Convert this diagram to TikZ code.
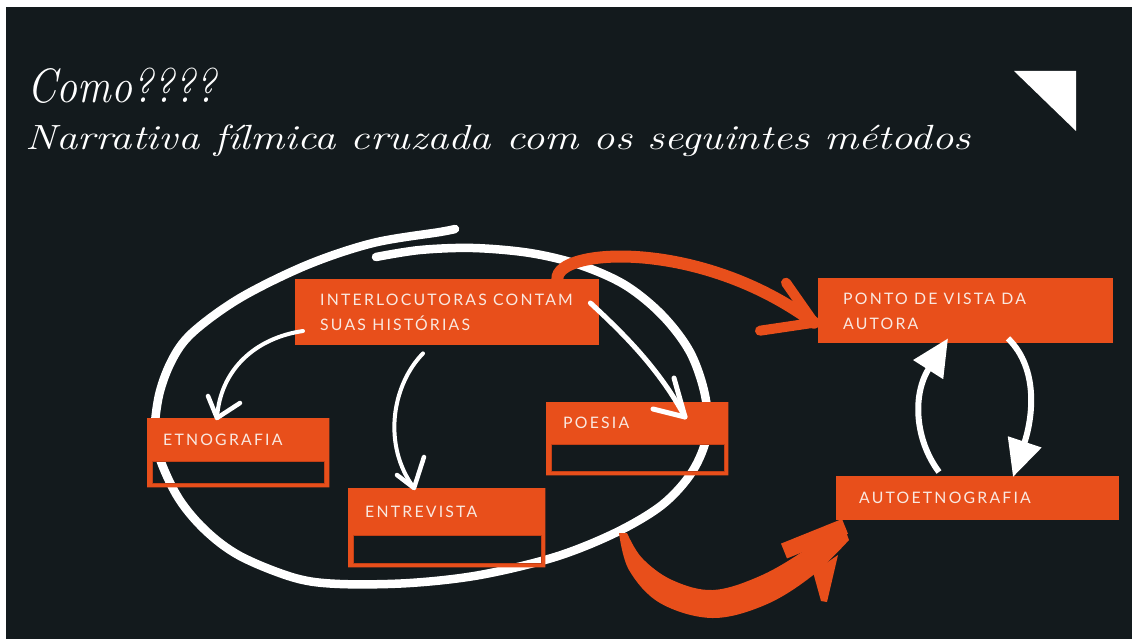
\documentclass[tikz,border=0pt]{standalone}
\usepackage{fontspec}
\usetikzlibrary{arrows.meta,calc}
\definecolor{bgdark}{RGB}{19,26,29}
\definecolor{orng}{RGB}{232,79,27}
\definecolor{orngdk}{RGB}{196,64,22}
\definecolor{boxtxt}{RGB}{250,232,224}
\newfontfamily\boxfont[LetterSpace=14]{Lato}
\tikzset{
  obox/.style={fill=orng, draw=none, anchor=north west, inner sep=0pt},
  framebox/.style={draw=none, fill=none, anchor=north west, inner sep=0pt},
  btext/.style={anchor=base west, inner sep=0pt, text=boxtxt, font=\boxfont\fontsize{15.8}{25}\selectfont},
  holeline/.style={draw=orngdk, line width=0.8pt},
  warrow/.style={draw=white, line width=4pt, line cap=round, line join=round},
  barb/.style={draw=white, line width=4.5pt, line cap=round, line join=round},
  bigw/.style={draw=white, line width=6pt, -{Triangle[width=34pt,length=37pt]}},
  oshaft/.style={draw=orng, line width=12pt, line cap=round},
  obarb/.style={draw=orng, line width=10pt, line cap=round, line join=round},
  loop/.style={draw=white, line width=8.5pt, line cap=round, line join=round},
  ttl/.style={anchor=base west, inner sep=0pt, text=white},
}
\begin{document}
\begin{tikzpicture}[x=1pt,y=-1pt]
\useasboundingbox (0,0) rectangle (1132,639);
\fill[white] (0,0) rectangle (1132,639);
\fill[bgdark] (6,7) rectangle (1132,639);

% title
\node[ttl, font=\fontsize{42}{48}\selectfont\itshape] (t1) at (27,103) {\scalebox{1.0}[1.15]{Como????}};
\node[ttl, font=\fontsize{35}{40}\selectfont\itshape] (t2) at (25,150) {\scalebox{1.22}[1]{Narrativa fílmica cruzada com os seguintes métodos}};
\fill[white] (1014,71) -- (1076,71) -- (1076,131) -- cycle;

% hand-drawn loop
\draw[loop] plot[smooth, tension=0.55] coordinates {
(376,257) (420,250) (473,248) (530,253) (580,265) (625,285) (662,315) (690,352) (705,395) (707,435) (692,472) (662,505) (615,533) (555,557) (480,575) (410,583) (340,584) (295,578) (240,556) (204,529) (176,494) (156,445) (158,400) (171,362) (192,333) (240,298) (307,265) (373,243) (440,232) (455,229)};

% boxes
\node[obox, minimum width=304pt, minimum height=66pt] (inter) at (295,279) {};
\node[obox, minimum width=295pt, minimum height=65pt] (ponto) at (818,278) {};
\node[obox, minimum width=283pt, minimum height=44pt] (auto) at (836,476) {};
\node[framebox, minimum width=182pt, minimum height=69pt] (etno) at (147,418) {};
\node[framebox, minimum width=197pt, minimum height=79pt] (entre) at (348,488) {};
\node[framebox, minimum width=182pt, minimum height=73pt] (poesia) at (546,402) {};

\fill[orng, even odd rule] (etno.north west) rectangle (etno.south east)
  ($(etno.north west)+(5,43)$) rectangle ($(etno.north west)+(177,65)$);
\draw[holeline] ($(etno.north west)+(5,43)$) rectangle ($(etno.north west)+(177,65)$);
\fill[orng, even odd rule] (entre.north west) rectangle (entre.south east)
  ($(entre.north west)+(5,47)$) rectangle ($(entre.north west)+(193,75)$);
\draw[holeline] ($(entre.north west)+(5,47)$) rectangle ($(entre.north west)+(193,75)$);
\fill[orng, even odd rule] (poesia.north west) rectangle (poesia.south east)
  ($(poesia.north west)+(5,42)$) rectangle ($(poesia.north west)+(178,69)$);
\draw[holeline] ($(poesia.north west)+(5,42)$) rectangle ($(poesia.north west)+(178,69)$);

% box texts
\node[btext] (intertxt) at ($(inter.north west)+(25,26)$) {\vtop{\hbox{INTERLOCUTORAS CONTAM}\hbox{SUAS HISTÓRIAS}}};
\node[btext] (pontotxt) at ($(ponto.north west)+(25,26)$) {\vtop{\hbox{PONTO DE VISTA DA}\hbox{AUTORA}}};
\node[btext] (autotxt) at ($(auto.north west)+(23,27)$) {AUTOETNOGRAFIA};
\node[btext] (etnotxt) at ($(etno.north west)+(16,27)$) {ETNOGRAFIA};
\node[btext] (entretxt) at ($(entre.north west)+(17,29)$) {ENTREVISTA};
\node[btext] (poesiatxt) at ($(poesia.north west)+(17,26)$) {POESIA};

% white thin arrows
\coordinate (a1s) at ($(inter.north west)+(8,52)$);
\coordinate (a1t) at ($(etno.north west)+(70,0)$);
\draw[warrow] (a1s) .. controls (255,338) and (220,370) .. (a1t);
\draw[barb] ($(a1t)+(-9,-22)$) -- (a1t) -- ($(a1t)+(23,-15)$);

\coordinate (a2s) at ($(inter.south west)+(128,8)$);
\coordinate (a2t) at ($(entre.north west)+(66,0)$);
\draw[warrow] (a2s) .. controls (392,385) and (382,445) .. (a2t);
\draw[barb] ($(a2t)+(-17,-13)$) -- (a2t) -- ($(a2t)+(10,-31)$);

\coordinate (a3s) at ($(inter.north east)+(-9,24)$);
\coordinate (a3t) at ($(poesia.north west)+(139,15)$);
\draw[warrow, line width=5pt] (a3s) .. controls (625,335) and (660,370) .. (a3t);
\draw[barb, line width=5pt] ($(a3t)+(-11,-39)$) -- (a3t) -- ($(a3t)+(-32,-8)$);

% white thick arrows between right boxes
\draw[bigw] ($(auto.north west)+(103,-4)$) .. controls (915,440) and (912,395) .. ($(ponto.south west)+(130,-5)$);
\draw[bigw] ($(ponto.south west)+(190,-5)$) .. controls (1040,370) and (1032,420) .. ($(auto.north west)+(177,1)$);

% orange top arrow
\coordinate (o1s) at ($(inter.north east)+(-42,0)$);
\coordinate (o1t) at ($(ponto.west)+(-4,12)$);
\draw[oshaft] (o1s) .. controls (556,248) and (700,238) .. (o1t);
\draw[obarb] ($(o1t)+(-28,-40)$) -- (o1t) -- ($(o1t)+(-54,8)$);

% orange bottom arrow
\coordinate (o2s) at (622,533);
\coordinate (o2t) at ($(auto.south west)+(9,6)$);
\fill[orng] plot[smooth, tension=0.6] coordinates {(619,533) (629,570) (660,603) (712,618) (765,605) (812,576) (849,540)}
  -- plot[smooth, tension=0.6] coordinates {(842,521) (805,550) (760,576) (713,590) (672,580) (642,558) (627,533)} -- cycle;
\draw[orng, line width=16pt] (784,551) -- (o2t);
\fill[orng] (813,572) -- (838,555) -- (827,602) -- (821,601) -- cycle;
\end{tikzpicture}
\end{document}
